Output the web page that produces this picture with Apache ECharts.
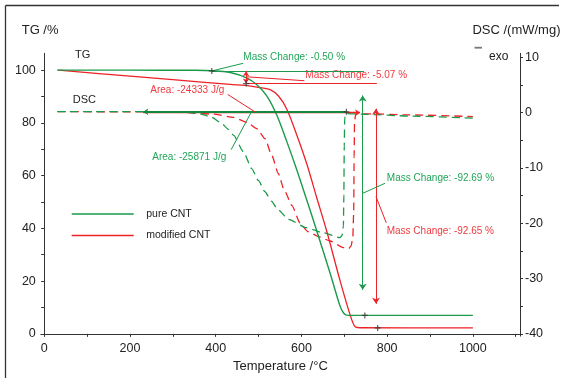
<!DOCTYPE html>
<html><head><meta charset="utf-8">
<script src="https://cdn.jsdelivr.net/npm/echarts@6/dist/echarts.min.js"></script>
<style>html,body{margin:0;padding:0;background:#fff}#c{width:565px;height:378px}</style>
</head><body><div id="c"></div>
<script>
// ---- axis ticks / labels ----
const xTickValues = [0,100,200,300,400,500,600,700,800,900,1000,1100];
const xLabelValues = [0,200,400,600,800,1000];
const tgTickValues = [0,10,20,30,40,50,60,70,80,90,100];
const tgLabelValues = [0,20,40,60,80,100];
const dscTickValues = [-40,-35,-30,-25,-20,-15,-10,-5,0,5,10];
const dscLabelValues = [-40,-30,-20,-10,0,10];

// ---- TG curves (temperature °C, mass %) ----
const pureTG_T = [30,200,350,391,434,473,496,520,543,566,589,609,632,667,690,698,705,720,800,1000];
const pureTG   = [100,100,99.95,99.8,99.1,97.0,94.5,90.1,82.8,72.9,62.3,52.5,41.0,23.0,10.6,8.0,7.1,7.0,7.0,7.0];
const modTG_T  = [33,200,300,434,469,496,527,547,566,589,613,636,659,690,714,725,735,1000];
const modTG    = [100,97.75,96.4,94.6,94.2,93.6,92.6,90.1,85.2,75.5,64.2,51.5,39.0,20.3,7.0,2.7,2.3,2.25];

// ---- DSC curves (temperature °C, mW/mg) ----
const pureDSC_T = [30,200,317,364,390,411,430,442,465,484,500,515,530,545,570,612,650,690,695,698,699,700,701,704,750,850,1000];
const pureDSC   = [0.2,0.2,0.2,-0.2,-0.8,-1.75,-3.0,-4.1,-7.1,-10.1,-12.3,-14.3,-16.0,-17.5,-19.3,-20.8,-21.7,-22.6,-22.2,-20.5,-15,-6,-1,-0.15,-0.3,-0.6,-1.0];
const modDSC_T  = [32,200,317,395,442,473,496,515,531,546,560,578,597,615,640,667,698,710,716,720,722,723,724,727,760,850,1000];
const modDSC    = [0.2,0.15,0.1,-0.27,-0.86,-1.75,-2.9,-4.7,-7.7,-11.0,-14.0,-16.8,-20.0,-21.5,-22.4,-23.2,-24.4,-24.6,-24.1,-22.5,-18,-8,-1.5,-0.2,-0.2,-0.4,-0.7];

// ---- evaluation annotations (values in data units) ----
const greenStepT = 391, greenStepLevel = 99.7, greenStepEndT = 746;
const redStepT = 471, redStepTop = 99.6, redStepLevel = 94.9, redStepEndT = 776;
const greenLossT = 743, greenLossTop = 90.4, greenLossBottom = 16.7, greenResidueT = 748, greenResidue = 7.0;
const redLossT = 774, redLossTop = 85.4, redLossBottom = 11.4, redResidueT = 778, redResidue = 2.25;
const greenBaseStartT = 231, greenBaseEndT = 705, greenBaseLevel = 0.15;
const redBaseStartT = 231, redBaseEndT = 737, redBaseLevel = 0.0;

const zip = (a, b) => a.map((v, i) => [v, b[i]]);
const FONT = '"Liberation Sans", Arial, Helvetica, sans-serif';
const GREEN = '#1a9a4a', RED = '#ec2227', GTXT = '#22a559', RTXT = '#f03a3f', AX = '#333';
const PLUS = 'path://M4,0h2v4h4v2h-4v4h-2v-4h-4v-2h4z';

const chart = echarts.init(document.getElementById('c'), null, {renderer: 'canvas'});

function seg(coords, color, opts) {
  return Object.assign({
    type: 'lines', coordinateSystem: 'cartesian2d', xAxisIndex: 0, yAxisIndex: 0,
    silent: true, symbol: ['none', 'none'], symbolSize: 6, z: 4,
    lineStyle: {color: color, width: 1, opacity: 1, curveness: 0},
    data: coords.map(c => ({coords: c}))
  }, opts || {});
}
const plain = v => String(v);

const option = {
  animation: false,
  backgroundColor: '#fff',
  textStyle: {fontFamily: FONT},
  grid: {left: 40.8, right: 45, top: 53.3, bottom: 38, containLabel: false},
  legend: {
    orient: 'vertical', left: 66.7, top: 203.5, itemGap: 10.5,
    itemWidth: 62, itemHeight: 1.6, icon: 'rect',
    textStyle: {fontFamily: FONT, fontSize: 10.5, color: '#222', padding: [0, 0, 0, 7.5]},
    data: ['pure CNT', 'modified CNT']
  },
  xAxis: {
    type: 'value', min: -8, max: 1110,
    name: 'Temperature /°C', nameLocation: 'middle', nameGap: 19,
    nameTextStyle: {fontFamily: FONT, fontSize: 13, color: '#222'},
    axisLine: {lineStyle: {color: AX, width: 1}},
    axisTick: {length: 3, lineStyle: {color: AX}, customValues: xTickValues},
    axisLabel: {fontFamily: FONT, fontSize: 12.5, color: '#222', margin: 6, customValues: xLabelValues, formatter: plain},
    splitLine: {show: false}
  },
  yAxis: [{
    type: 'value', min: -0.86, max: 106.4, position: 'left',
    axisLine: {show: true, lineStyle: {color: AX, width: 1}},
    axisTick: {show: true, length: 3, lineStyle: {color: AX}, customValues: tgTickValues},
    axisLabel: {fontFamily: FONT, fontSize: 12.5, color: '#222', margin: 5, customValues: tgLabelValues, formatter: plain},
    splitLine: {show: false}
  }, {
    type: 'value', min: -40.4, max: 10.74, position: 'right',
    axisLine: {show: true, lineStyle: {color: AX, width: 1}},
    axisTick: {show: true, length: 3, lineStyle: {color: AX}, customValues: dscTickValues},
    axisLabel: {fontFamily: FONT, fontSize: 12.5, color: '#222', margin: 5, customValues: dscLabelValues, formatter: plain},
    splitLine: {show: false}
  }],
  series: [
    {name: 'modified CNT', type: 'line', yAxisIndex: 1, data: zip(modDSC_T, modDSC), showSymbol: false,
     smooth: 0.2, smoothMonotone: 'x', lineStyle: {color: RED, width: 1.3, type: [8, 5]}, itemStyle: {color: RED}, z: 2},
    {name: 'pure CNT', type: 'line', yAxisIndex: 1, data: zip(pureDSC_T, pureDSC), showSymbol: false,
     smooth: 0.2, smoothMonotone: 'x', lineStyle: {color: GREEN, width: 1.3, type: [8, 5]}, itemStyle: {color: GREEN}, z: 2},
    {name: 'modified CNT', type: 'line', yAxisIndex: 0, data: zip(modTG_T, modTG), showSymbol: false,
     smooth: 0.3, lineStyle: {color: RED, width: 1.3}, itemStyle: {color: RED}, z: 3},
    {name: 'pure CNT', type: 'line', yAxisIndex: 0, data: zip(pureTG_T, pureTG), showSymbol: false,
     smooth: 0.3, lineStyle: {color: GREEN, width: 1.4}, itemStyle: {color: GREEN}, z: 3},

    // mass-step levels and leaders
    seg([[[greenStepT, greenStepLevel], [greenStepEndT, greenStepLevel]]], GREEN),
    seg([[[greenStepT, greenStepLevel], [464, 102.6]]], GREEN),
    seg([[[redStepT, redStepLevel], [redStepEndT, redStepLevel]]], RED),
    seg([[[redStepT, 97.5], [607, 96.0]]], RED),
    seg([[[redStepT, redStepTop], [redStepT, redStepLevel]]], RED, {symbol: ['arrow', 'arrow'], symbolSize: 5}),
    seg([[[greenLossT, greenLossTop], [greenLossT, greenLossBottom]]], GREEN, {symbol: ['arrow', 'arrow'], symbolSize: 6}),
    seg([[[redLossT, redLossTop], [redLossT, redLossBottom]]], RED, {symbol: ['arrow', 'arrow'], symbolSize: 6}),
    seg([[[greenLossT, 53.3], [795, 57.1]]], GREEN),
    seg([[[redLossT, 52.1], [798, 42.1]]], RED),

    // DSC integration baselines and leaders
    seg([[[redBaseStartT, redBaseLevel], [redBaseEndT, redBaseLevel]]], RED, {yAxisIndex: 1, symbol: ['none', 'arrow'], symbolSize: 5, lineStyle: {color: RED, width: 1.3, opacity: 1, curveness: 0}}),
    seg([[[greenBaseStartT, greenBaseLevel], [greenBaseEndT, greenBaseLevel]]], '#14883c', {yAxisIndex: 1, symbol: ['arrow', 'none'], symbolSize: 5, lineStyle: {color: '#14883c', width: 2, opacity: 1, curveness: 0}}),
    seg([[[428, 3.3], [492, 0.14]]], RED, {yAxisIndex: 1}),
    seg([[[436, -6.7], [483, 0.09]]], GREEN, {yAxisIndex: 1}),

    // evaluation points
    {type: 'scatter', yAxisIndex: 0, symbol: PLUS, symbolSize: 6, silent: true, z: 6,
     itemStyle: {color: '#333'},
     data: [[greenStepT, greenStepLevel], [redStepT, redStepLevel], [greenResidueT, greenResidue], [redResidueT, redResidue]]},
    {type: 'scatter', yAxisIndex: 1, symbol: PLUS, symbolSize: 6, silent: true, z: 6,
     itemStyle: {color: '#333'}, data: [[greenBaseEndT, greenBaseLevel]]}
  ],
  graphic: [
    {type: 'line', shape: {x1: 5.5, y1: 5.5, x2: 559, y2: 5.5}, style: {stroke: '#333', lineWidth: 1.3}},
    {type: 'line', shape: {x1: 5.5, y1: 5.5, x2: 5.5, y2: 378}, style: {stroke: '#333', lineWidth: 1.3}},
    {type: 'text', left: 21.7, top: 24, style: {text: 'TG /%', font: '13px ' + FONT, fill: '#222'}},
    {type: 'text', right: 4.5, top: 24, style: {text: 'DSC /(mW/mg)', font: '13px ' + FONT, fill: '#222'}},
    {type: 'line', shape: {x1: 474.5, y1: 47.7, x2: 482, y2: 47.7}, style: {stroke: '#777', lineWidth: 1.8}},
    {type: 'text', left: 489, top: 50.5, style: {text: 'exo', font: '12px ' + FONT, fill: '#222'}},
    {type: 'text', left: 75, top: 49, style: {text: 'TG', font: '11px ' + FONT, fill: '#222'}},
    {type: 'text', left: 72.7, top: 94, style: {text: 'DSC', font: '11px ' + FONT, fill: '#222'}},
    {type: 'text', left: 243.3, top: 52.5, style: {text: 'Mass Change: -0.50 %', font: '10px ' + FONT, fill: GTXT}},
    {type: 'text', left: 305.3, top: 70.2, style: {text: 'Mass Change: -5.07 %', font: '10px ' + FONT, fill: RTXT}},
    {type: 'text', left: 150.3, top: 85.2, style: {text: 'Area: -24333 J/g', font: '10px ' + FONT, fill: RTXT}},
    {type: 'text', left: 152.3, top: 151.8, style: {text: 'Area: -25871 J/g', font: '10px ' + FONT, fill: GTXT}},
    {type: 'text', left: 386.8, top: 172.8, style: {text: 'Mass Change: -92.69 %', font: '10px ' + FONT, fill: GTXT}},
    {type: 'text', left: 386.7, top: 226.2, style: {text: 'Mass Change: -92.65 %', font: '10px ' + FONT, fill: RTXT}}
  ]
};
chart.setOption(option);
</script>
</body></html>
